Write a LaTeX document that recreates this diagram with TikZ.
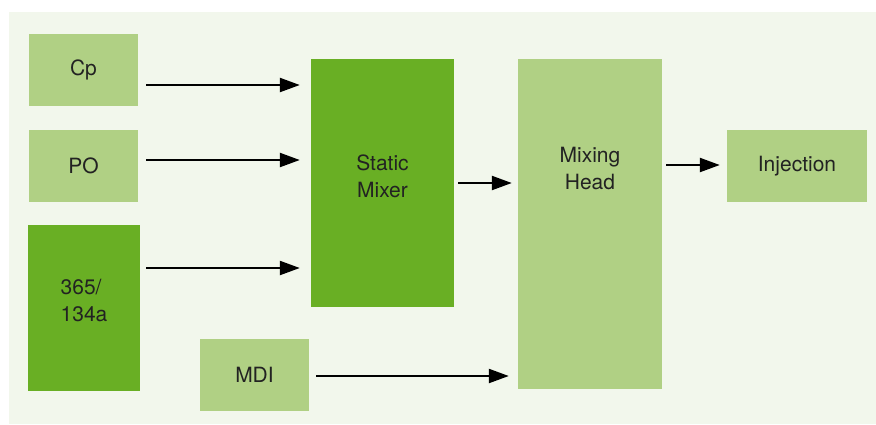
\documentclass[tikz,border=0pt]{standalone}
\usepackage{fontspec}
\setmainfont{TeX Gyre Heros}
\usetikzlibrary{arrows.meta,backgrounds,calc,positioning}
\definecolor{bggreen}{HTML}{F2F7EC}
\definecolor{lightgreen}{HTML}{B0D084}
\definecolor{darkgreen}{HTML}{69AF24}
\definecolor{textgrey}{HTML}{222222}
\tikzset{
  boxtext/.style={text=textgrey,inner sep=0pt,align=center,font=\fontsize{21}{27}\selectfont},
  box/.style={boxtext,fill=lightgreen},
  darkbox/.style={box,fill=darkgreen},
  flow/.style={line width=2.3pt,-{Triangle[length=20pt,width=14pt]}}
}
\begin{document}
\begin{tikzpicture}[x=1pt,y=-1pt]
\useasboundingbox (0,0) rectangle (876,424);
\fill[bggreen] (9,12) rectangle (876,424);
% feeds
\node[box,minimum width=109pt,minimum height=72pt] (cp) at (83.5,70) {Cp};
\node[box,minimum width=109pt,minimum height=72pt] (po) at (83.5,165.5) {PO};
\node[darkbox,minimum width=112pt,minimum height=166pt,
  label={[boxtext,align=left,yshift=8pt]center:365/\\134a}] (blowing) at (84,308) {};
\node[box,minimum width=109pt,minimum height=72pt] (mdi) at (254.5,375) {MDI};
% mixing
\node[darkbox,minimum width=143pt,minimum height=248pt,
  label={[boxtext,yshift=7pt]center:Static\\Mixer}] (mixer) at (382.5,183) {};
\node[box,minimum width=144pt,minimum height=330pt,
  label={[boxtext,anchor=center,yshift=-110pt]north:Mixing\\Head}] (head) at (590,224) {};
\node[box,minimum width=140pt,minimum height=72pt] (injection) at (797,166) {Injection};
% arrows
\draw[flow,shorten <=8pt,shorten >=11pt] (cp.east |- 0,85) -- (mixer.west |- 0,85);
\draw[flow,shorten <=8pt,shorten >=11pt] (po.east |- 0,160) -- (mixer.west |- 0,160);
\draw[flow,shorten <=6pt,shorten >=11pt] (blowing.east |- 0,268) -- (mixer.west |- 0,268);
\draw[flow,shorten <=4pt,shorten >=6pt] (mixer.east |- 0,183) -- (head.west |- 0,183);
\draw[flow,shorten <=7pt,shorten >=9pt] (mdi.east |- 0,376) -- (head.west |- 0,376);
\draw[flow,shorten <=4pt,shorten >=7pt] (head.east |- 0,165) -- (injection.west |- 0,165);
\end{tikzpicture}
\end{document}
